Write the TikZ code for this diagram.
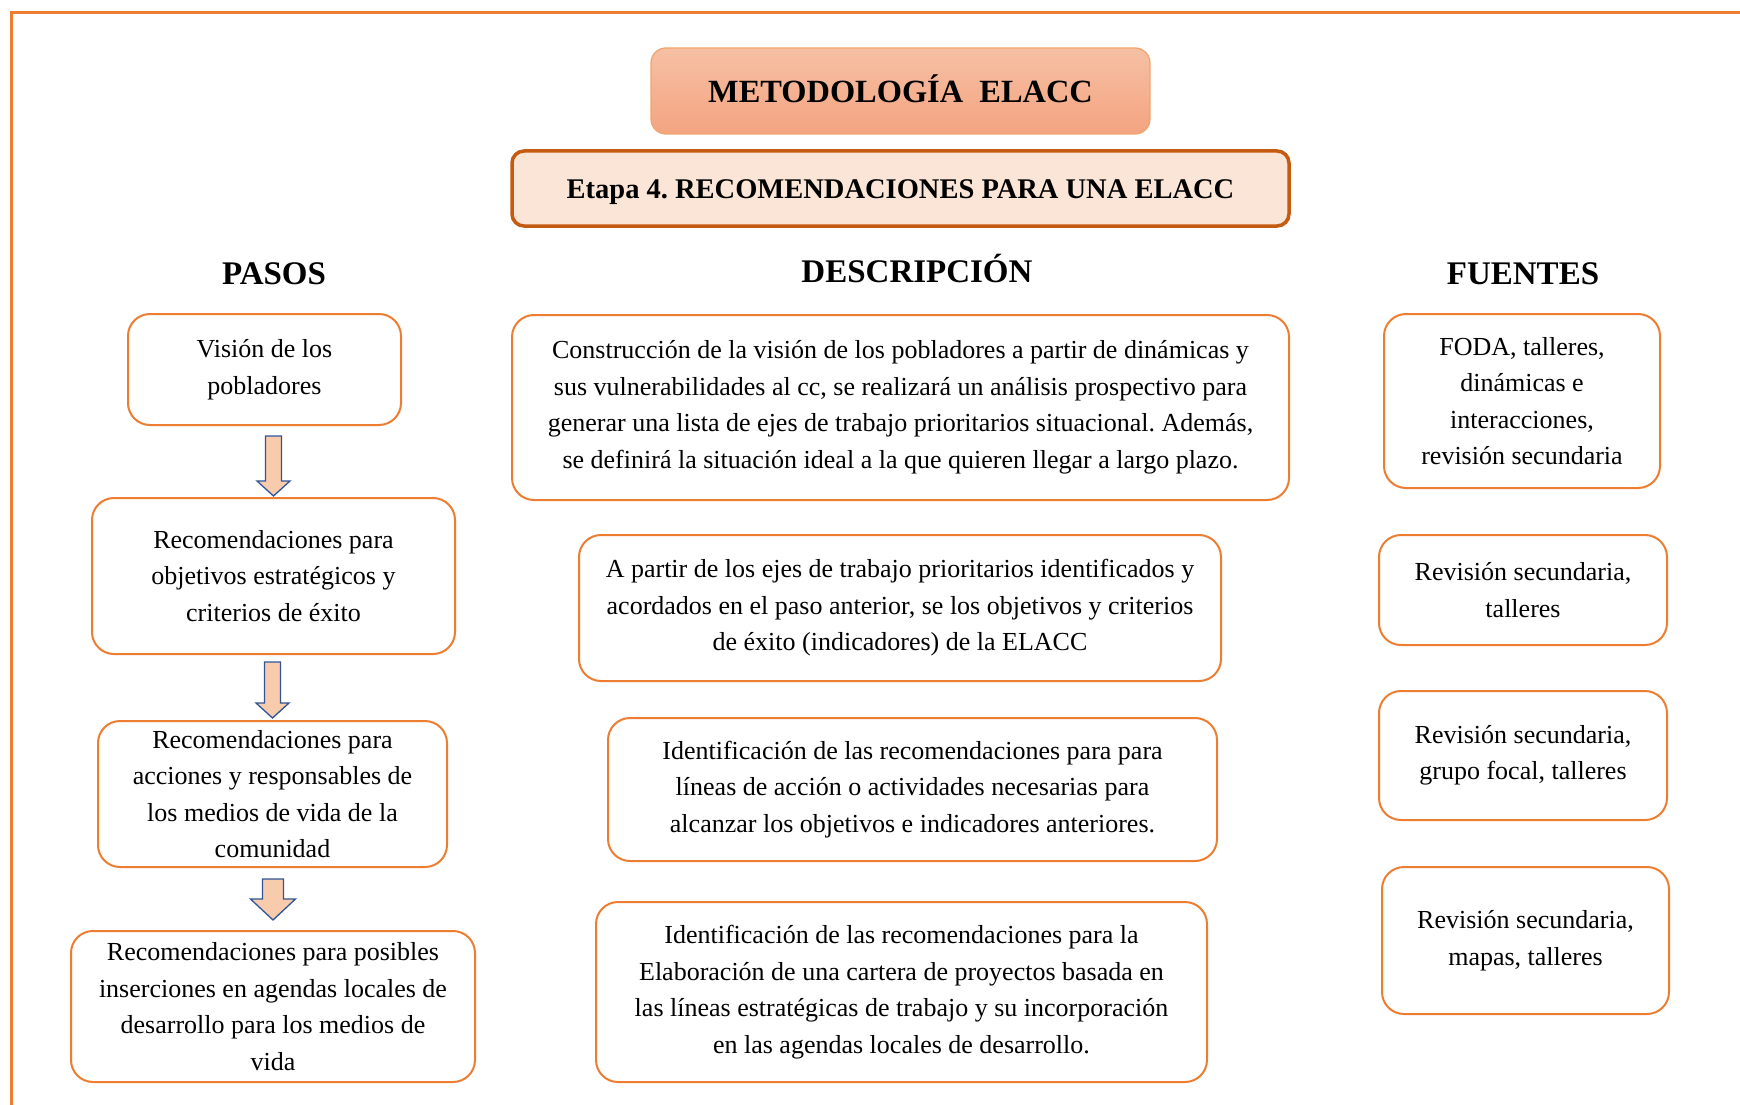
\documentclass[tikz,border=0pt]{standalone}
\usepackage{fontspec}
\setmainfont{Liberation Serif}
\usetikzlibrary{calc,positioning}
\frenchspacing

\definecolor{naranja}{HTML}{ED7D31}
\definecolor{naranjaosc}{HTML}{C55A11}
\definecolor{durazno}{HTML}{FBE5D6}
\definecolor{salmon}{HTML}{F8CBAD}
\definecolor{azulflecha}{HTML}{2F5597}

% block arrow: top point, half shaft, half head, shaft length, head length
\newcommand{\flecha}[5]{%
  \draw[flechaazul] (#1) ++(-#2,0) -- ++({2*#2},0) -- ++(0,#4) -- ++({#3-#2},0)
    -- ++(-#3,#5) -- ++(-#3,-#5) -- ++({#3-#2},0) -- cycle;}

\begin{document}
\begin{tikzpicture}[x=1pt, y=-1pt,
  caja/.style = {draw=naranja, line width=2pt, rounded corners=22pt, fill=white,
    align=center, inner sep=0pt, font=\fontsize{26}{36.5}\selectfont},
  encabezado/.style = {font=\fontsize{33}{36}\selectfont\bfseries, inner sep=0pt},
  flechaazul/.style = {draw=azulflecha, fill=salmon, line width=1.3pt, line join=miter}]
 \useasboundingbox (0,0) rectangle (1740,1105);
 \draw[naranja, line width=3pt] (1740,13) -- (11,13) -- (11,1105);

 % title
 \node[draw=naranja!70, line width=1.3pt, rounded corners=15pt,
   top color={rgb,255:red,246;green,192;blue,164}, bottom color={rgb,255:red,244;green,164;blue,128},
   minimum width=499, minimum height=86, inner sep=0pt,
   font=\fontsize{32.4}{36}\selectfont\bfseries] (titulo) at (900.5,91)
   {\raisebox{2pt}[\height][\depth]{METODOLOGÍA~~ELACC}};
 \node[draw=naranjaosc, fill=durazno, line width=3.5pt, rounded corners=12pt,
   minimum width=777, minimum height=75, inner sep=0pt,
   font=\fontsize{28.5}{34}\selectfont\bfseries] (etapa) at (900.5,188.5)
   {\raisebox{-3.5pt}[\height][\depth]{Etapa 4. RECOMENDACIONES PARA UNA ELACC}};

 \node[encabezado] (hpasos) at (274,274) {PASOS};
 \node[encabezado] (hdesc) at (917,269) {DESCRIPCIÓN};
 \node[encabezado] (hfuentes) at (1523,274) {FUENTES};

 % pasos
 \node[caja, minimum width=273, minimum height=111] (p1) at (264.5,369.5)
   {Visión de los\\pobladores};
 \node[caja, minimum width=363, minimum height=156] (p2) at (273.5,576)
   {Recomendaciones para\\objetivos estratégicos y\\criterios de éxito};
 \node[caja, minimum width=349, minimum height=146] (p3) at (272.5,794)
   {Recomendaciones para\\acciones y responsables de\\los medios de vida de la\\comunidad};
 \node[caja, minimum width=404, minimum height=151] (p4) at (273,1006.5)
   {Recomendaciones para posibles\\inserciones en agendas locales de\\desarrollo para los medios de\\vida};

 \coordinate (f1) at ($(p1.south -| p2.north)+(0,10)$);
 \coordinate (f2) at ($(p2.south -| p3.north)+(0,7)$);
 \coordinate (f3) at ($(p3.south -| p4.north)+(0,11)$);
 \flecha{f1}{8}{16.5}{45}{15}
 \flecha{f2}{8}{16.5}{41}{15}
 \flecha{f3}{10.5}{22.5}{20}{21}

 % descripcion
 \node[caja, minimum width=777, minimum height=185] (d1) at (900.5,407.5)
   {Construcción de la visión de los pobladores a partir de dinámicas y\\
    sus vulnerabilidades al cc, se realizará un análisis prospectivo para\\
    generar una lista de ejes de trabajo prioritarios situacional. Además,\\
    se definirá la situación ideal a la que quieren llegar a largo plazo.};
 \node[caja, minimum width=642, minimum height=146] (d2) at (900,608)
   {A partir de los ejes de trabajo prioritarios identificados y\\
    acordados en el paso anterior, se los objetivos y criterios\\
    de éxito (indicadores) de la ELACC};
 \node[caja, minimum width=609, minimum height=143] (d3) at (912.5,789.5)
   {Identificación de las recomendaciones para para\\
    líneas de acción o actividades necesarias para\\
    alcanzar los objetivos e indicadores anteriores.};
 \node[caja, minimum width=611, minimum height=180] (d4) at (901.5,992)
   {Identificación de las recomendaciones para la\\
    Elaboración de una cartera de proyectos basada en\\
    las líneas estratégicas de trabajo y su incorporación\\
    en las agendas locales de desarrollo.};

 % fuentes
 \node[caja, minimum width=276, minimum height=174] (s1) at (1522,401)
   {FODA, talleres,\\dinámicas e\\interacciones,\\revisión secundaria};
 \node[caja, minimum width=288, minimum height=110] (s2) at (1523,590)
   {Revisión secundaria,\\talleres};
 \node[caja, minimum width=288, minimum height=129] (s3) at (1523,755.5)
   {Revisión secundaria,\\grupo focal, talleres};
 \node[caja, minimum width=287, minimum height=147] (s4) at (1525.5,940.5)
   {Revisión secundaria,\\mapas, talleres};
\end{tikzpicture}
\end{document}
